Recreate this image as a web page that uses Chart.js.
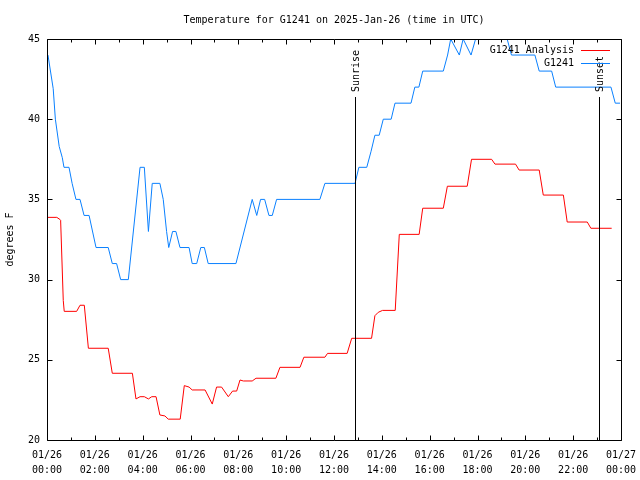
<!DOCTYPE html>
<html>
<head>
<meta charset="utf-8">
<script src="https://cdn.jsdelivr.net/npm/chart.js@4"></script>
<style>
html,body{margin:0;padding:0;background:#fff;}
canvas{display:block;}
</style>
</head>
<body>
<canvas id="c" width="640" height="480"></canvas>
<script>
// ---- data ----
const chartTitle = 'Temperature for G1241 on 2025-Jan-26 (time in UTC)';
const yTitle = 'degrees F';
const seriesNames = ['G1241 Analysis', 'G1241'];
const xTickHours = [0,2,4,6,8,10,12,14,16,18,20,22,24];
const xTickDates = ['01/26','01/26','01/26','01/26','01/26','01/26','01/26','01/26','01/26','01/26','01/26','01/26','01/27'];
const xTickTimes = ['00:00','02:00','04:00','06:00','08:00','10:00','12:00','14:00','16:00','18:00','20:00','22:00','00:00'];
const yTicks = [20,25,30,35,40,45];
const sunEvents = ['Sunrise','Sunset'];
const sunHours = [12.88, 23.08];

const anaHours = [0.04,0.41,0.54,0.57,0.68,0.72,1.24,1.38,1.56,1.73,2.56,2.73,3.57,3.72,3.89,4.07,4.24,4.38,4.56,4.72,4.93,5.07,5.57,5.74,5.94,6.07,6.61,6.91,7.09,7.30,7.58,7.76,7.93,8.07,8.21,8.58,8.74,9.57,9.74,10.58,10.74,11.62,11.73,12.55,12.74,13.57,13.71,13.85,14.03,14.56,14.73,15.56,15.71,16.57,16.74,17.57,17.75,18.59,18.73,19.59,19.74,20.58,20.75,21.59,21.75,22.59,22.74,23.61];
const anaTemps = [33.88,33.88,33.75,33.7,28.7,28.02,28.02,28.4,28.4,25.72,25.72,24.16,24.16,22.56,22.7,22.7,22.56,22.7,22.7,21.56,21.5,21.3,21.3,23.39,23.3,23.12,23.12,22.24,23.3,23.3,22.7,23.05,23.05,23.74,23.68,23.68,23.85,23.85,24.53,24.53,25.16,25.16,25.4,25.4,26.34,26.34,27.75,27.96,28.08,28.08,32.82,32.82,34.45,34.45,35.82,35.82,37.5,37.5,37.2,37.2,36.83,36.83,35.27,35.27,33.59,33.59,33.2,33.2];

const obsHours = [0.04,0.26,0.35,0.51,0.64,0.71,0.92,1.05,1.21,1.38,1.55,1.76,2.05,2.56,2.73,2.91,3.08,3.40,3.89,4.07,4.24,4.40,4.72,4.86,5.00,5.09,5.25,5.39,5.56,5.94,6.07,6.26,6.43,6.58,6.74,7.90,8.58,8.77,8.93,9.10,9.28,9.42,9.60,11.41,11.62,12.88,13.04,13.37,13.55,13.71,13.89,14.06,14.39,14.55,15.22,15.38,15.55,15.71,16.57,16.75,16.88,17.24,17.40,17.73,17.92,18.00,19.15,19.24,19.42,20.40,20.58,21.10,21.27,23.58,23.76,23.96];
const obsTemps = [44,41.9,40,38.3,37.6,37,37,36,35,35,34,34,32,32,31,31,30,30,37,37,33,36,36,35,33,32,33,33,32,32,31,31,32,32,31,31,35,34,35,35,34,34,35,35,36,36,37,37,38,39,39,40,40,41,41,42,42,43,43,44,45,44,45,44,45,46,46,45,44,44,43,43,42,42,41,41];

const colors = ['#ff0000', '#0a80ff'];
const FONT = 'DejaVu Sans Mono';

function pts(xs, ys){ return xs.map((x,i)=>({x:x, y:ys[i]})); }

const framePlugin = {
  id: 'frame',
  afterDatasetsDraw(chart){
    const ctx = chart.ctx, a = chart.chartArea;
    const xs = chart.scales.x, ys = chart.scales.y;
    ctx.save();
    ctx.strokeStyle = '#000';
    ctx.lineWidth = 1;
    const L = Math.round(a.left)+0.5, R = Math.round(a.right)+0.5, T = Math.round(a.top)+0.5, B = Math.round(a.bottom)+0.5;
    // sunrise / sunset lines
    ctx.fillStyle = '#000';
    ctx.font = '10px "' + FONT + '"';
    sunHours.forEach((h,i)=>{
      const px = Math.round(xs.getPixelForValue(h))+0.5;
      ctx.beginPath(); ctx.moveTo(px, 97); ctx.lineTo(px, B); ctx.stroke();
      ctx.save();
      ctx.translate(px+1, 92);
      ctx.rotate(-Math.PI/2);
      ctx.textAlign = 'left'; ctx.textBaseline = 'middle';
      ctx.fillText(sunEvents[i], 0, 0);
      ctx.restore();
    });
    // box
    ctx.beginPath(); ctx.rect(L, T, R-L, B-T); ctx.stroke();
    // x ticks (inward, mirrored)
    for(let h=0; h<=24; h++){
      const px = Math.round(xs.getPixelForValue(h))+0.5;
      const len = (h%2===0) ? 5 : 3;
      ctx.beginPath();
      ctx.moveTo(px, B); ctx.lineTo(px, B-len);
      ctx.moveTo(px, T); ctx.lineTo(px, T+len);
      ctx.stroke();
    }
    // y ticks
    yTicks.forEach(v=>{
      const py = Math.round(ys.getPixelForValue(v))+0.5;
      ctx.beginPath();
      ctx.moveTo(L, py); ctx.lineTo(L+5, py);
      ctx.moveTo(R, py); ctx.lineTo(R-5, py);
      ctx.stroke();
    });
    // legend
    ctx.textAlign = 'right'; ctx.textBaseline = 'middle';
    const legY = [50, 63];
    seriesNames.forEach((n,i)=>{
      ctx.fillStyle = '#000';
      ctx.fillText(n, 574, legY[i]);
      ctx.strokeStyle = colors[i];
      ctx.beginPath(); ctx.moveTo(581, legY[i]+0.5); ctx.lineTo(610, legY[i]+0.5); ctx.stroke();
    });
    ctx.restore();
  }
};

Chart.defaults.font.family = FONT;
Chart.defaults.font.size = 10;
Chart.defaults.color = '#000';

new Chart(document.getElementById('c'), {
  type: 'scatter',
  data: {
    datasets: [
      { label: seriesNames[0], data: pts(anaHours, anaTemps), showLine: true, borderColor: colors[0], backgroundColor: colors[0], borderWidth: 1, pointRadius: 0, tension: 0 },
      { label: seriesNames[1], data: pts(obsHours, obsTemps), showLine: true, borderColor: colors[1], backgroundColor: colors[1], borderWidth: 1, pointRadius: 0, tension: 0 }
    ]
  },
  options: {
    responsive: false,
    animation: false,
    layout: { padding: { left: 4, right: 19, top: 0, bottom: 0 } },
    plugins: {
      legend: { display: false },
      tooltip: { enabled: false },
      title: { display: true, fullSize: false, text: chartTitle, font: { size: 10, weight: 'normal', family: FONT }, color: '#000', padding: { top: 14, bottom: 13 } }
    },
    scales: {
      x: {
        type: 'linear', min: 0, max: 24,
        grid: { display: false, drawTicks: false },
        border: { display: false },
        afterBuildTicks(scale){ scale.ticks = xTickHours.map(v=>({value:v})); },
        afterFit(scale){ scale.height = 40; scale.paddingLeft = 0; scale.paddingRight = 0; },
        ticks: {
          autoSkip: false, maxRotation: 0, padding: 8,
          font: { size: 10, lineHeight: 1.5 },
          callback(v){ const i = xTickHours.indexOf(v); return i>=0 ? [xTickDates[i], xTickTimes[i]] : ''; }
        }
      },
      y: {
        min: 20, max: 45,
        grid: { display: false, drawTicks: false },
        border: { display: false },
        afterBuildTicks(scale){ scale.ticks = yTicks.map(v=>({value:v})); },
        afterFit(scale){ scale.width = 43; scale.paddingTop = 0; scale.paddingBottom = 0; },
        ticks: { padding: 7, font: { size: 10 } },
        title: { display: true, text: yTitle, padding: 0, font: { size: 10 } }
      }
    }
  },
  plugins: [framePlugin]
});
</script>
</body>
</html>
